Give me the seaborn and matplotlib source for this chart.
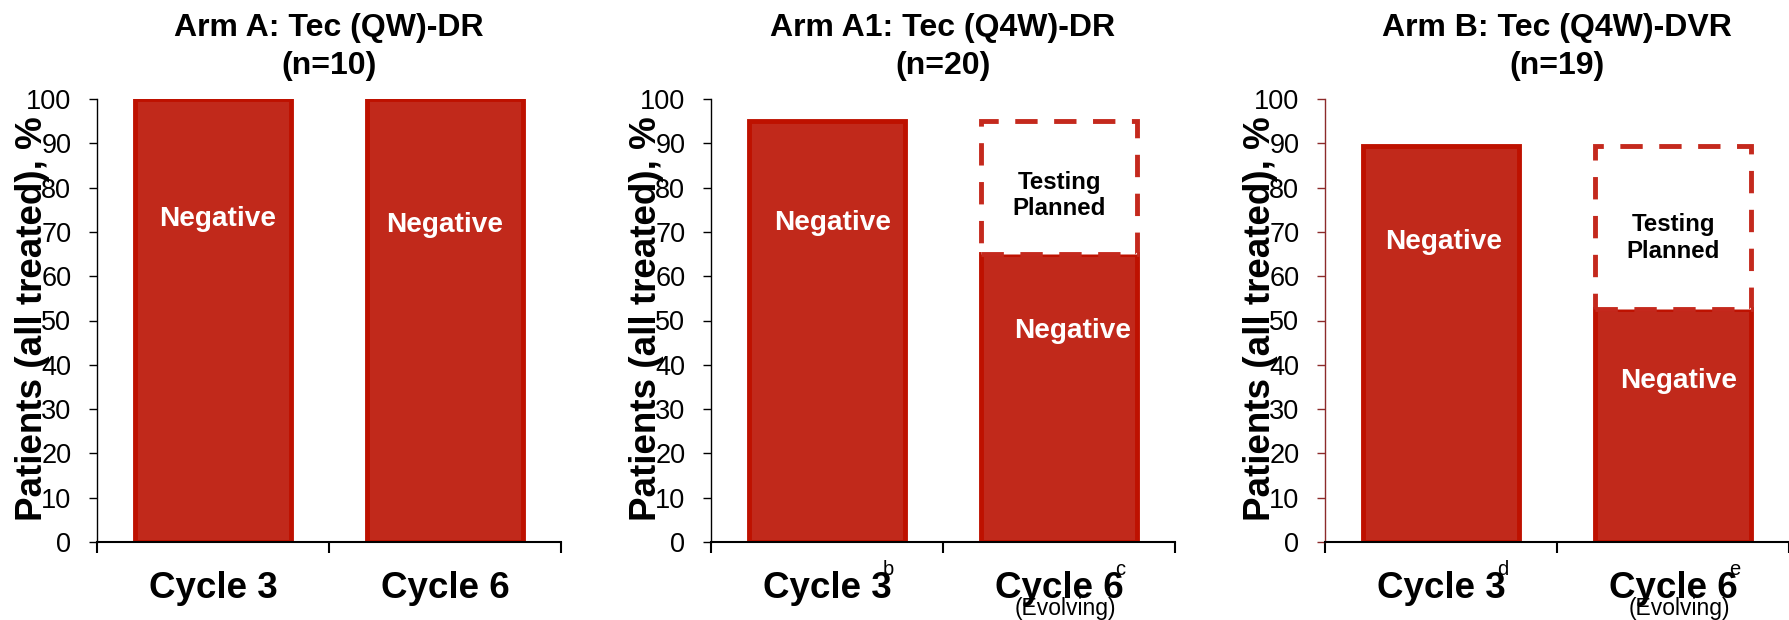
import numpy as np
import pandas as pd
import matplotlib
matplotlib.use("Agg")
import matplotlib.pyplot as plt
import seaborn as sns

# ---------------- data ----------------
cycles = ["Cycle 3", "Cycle 6"]
arm_titles = ["Arm A: Tec (QW)-DR\n(n=10)",
              "Arm A1: Tec (Q4W)-DR\n(n=20)",
              "Arm B: Tec (Q4W)-DVR\n(n=19)"]
negative_pct = [[100.0, 100.0], [95.0, 65.0], [89.5, 52.6]]
planned_total_pct = [[None, None], [None, 95.0], [None, 89.5]]
footnotes = [["", ""], ["b", "c"], ["d", "e"]]
subnotes = [["", ""], ["", "(Evolving)"], ["", "(Evolving)"]]
y_label = "Patients (all treated), %"
y_ticks = list(range(0, 101, 10))

# ---------------- layout / style ----------------
neg_label_y = [[72.8, 71.5], [72.0, 47.6], [67.8, 36.3]]
neg_label_dx = [[0.02, 0.0], [0.025, 0.06], [0.013, 0.025]]
planned_label_y = [None, 78.2, 68.6]
axes_left_px = [97, 711, 1325]

FILL = "#C1291B"
EDGE = "#BE1100"
DASH = "#C4291D"
SPINE3 = "#8C2B2B"

sns.set_theme(style="white")
plt.rcParams["font.family"] = ["Liberation Sans", "DejaVu Sans"]
plt.rcParams["axes.linewidth"] = 1.0

W, H = 1790, 620
fig = plt.figure(figsize=(W / 100, H / 100), dpi=100)

bar_w = 0.675

for k in range(3):
    ax = fig.add_axes([axes_left_px[k] / W, 78 / H, 464 / W, 443 / H])
    df = pd.DataFrame({"cycle": cycles, "pct": negative_pct[k]})
    sns.barplot(data=df, x="cycle", y="pct", order=cycles, width=bar_w,
                color=FILL, edgecolor=EDGE, linewidth=3.5, errorbar=None,
                ax=ax, zorder=1, saturation=1)
    for i, (c, tot, neg) in enumerate(zip(cycles, planned_total_pct[k], negative_pct[k])):
        if tot is None:
            continue
        pdf = pd.DataFrame({"cycle": [c], "extra": [tot - neg]})
        sns.barplot(data=pdf, x="cycle", y="extra", order=cycles, width=bar_w,
                    bottom=neg, facecolor="white", edgecolor=DASH,
                    linewidth=3.5, linestyle=(0, (4.6, 3.4)), errorbar=None,
                    ax=ax, zorder=1.5, saturation=1)
        ax.text(i, planned_label_y[k], "Testing\nPlanned", ha="center",
                va="center", fontsize=17.3, weight="bold", color="black",
                linespacing=1.2)

    for i in range(2):
        ax.text(i + neg_label_dx[k][i], neg_label_y[k][i], "Negative",
                ha="center", va="center", fontsize=20.2, weight="bold",
                color="white")
        ax.text(i, -12.6, cycles[i], ha="center", va="baseline",
                fontsize=26.5, weight="bold", color="black", clip_on=False)
        if footnotes[k][i]:
            ax.text(i + 0.265, -6.1, footnotes[k][i], ha="center",
                    va="center", fontsize=14.5, color="black", clip_on=False)
        if subnotes[k][i]:
            ax.text(i + 0.027, -16.5, subnotes[k][i], ha="center",
                    va="baseline", fontsize=16.5, color="black", clip_on=False)

    ax.set_xlim(-0.5, 1.5)
    ax.set_ylim(0, 100)
    ax.set_yticks(y_ticks)
    ax.set_xticks([-0.5, 0.5, 1.5])
    ax.set_xticklabels([])
    ax.set_xlabel("")
    ax.set_ylabel("")
    for s in ["top", "right"]:
        ax.spines[s].set_visible(False)
    ax.spines["bottom"].set_color("black")
    ax.spines["bottom"].set_linewidth(1.5)
    ax.spines["left"].set_linewidth(1.0)
    ax.tick_params(axis="x", direction="out", length=8, width=1.5,
                   color="black", bottom=True)
    ax.tick_params(axis="y", direction="out", length=6, width=1.0,
                   pad=12.5, labelsize=19.5, labelcolor="black", left=True,
                   color="black")
    if k == 2:
        ax.spines["left"].set_color(SPINE3)
        ax.tick_params(axis="y", color=SPINE3)
    else:
        ax.spines["left"].set_color("black")

    ax.set_title(arm_titles[k], fontsize=23, weight="bold", pad=18,
                 linespacing=1.33, color="black")
    ax.text(-0.14, 0.505, y_label, transform=ax.transAxes, rotation=90,
            ha="center", va="center", fontsize=26.5, weight="bold",
            color="black")

fig.savefig("out.png", dpi=100, facecolor="white")
